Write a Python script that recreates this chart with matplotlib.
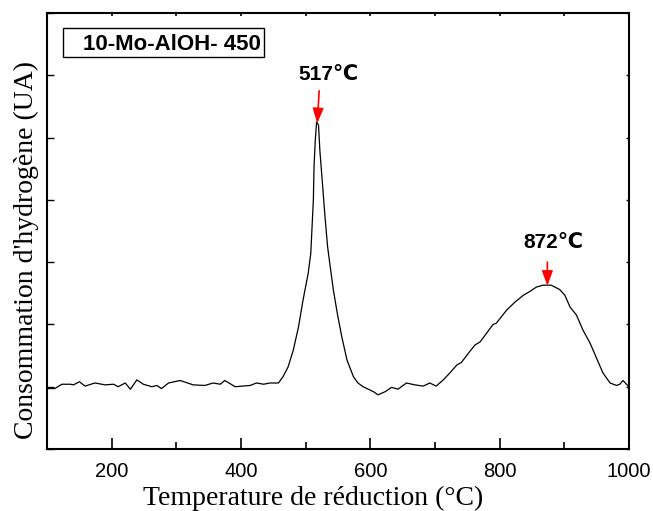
import matplotlib.pyplot as plt
from matplotlib.patches import Rectangle
from matplotlib.ticker import MultipleLocator

# TPR trace
temp = [100, 112, 123, 136, 141, 150, 159, 174, 190, 203,
        210, 221, 229, 239, 249, 262, 270, 277, 288, 306,
        326, 344, 357, 368, 375, 391, 414, 424, 435, 445,
        458, 465, 473, 481, 489, 496, 504, 508, 510, 512,
        513, 515, 517, 520, 522, 526, 530, 534, 538, 543,
        549, 556, 564, 574, 581, 589, 597, 605, 612, 623,
        633, 643, 656, 669, 682, 692, 702, 713, 723, 734,
        741, 752, 762, 770, 780, 790, 795, 811, 824, 837,
        847, 857, 867, 880, 893, 901, 909, 919, 929, 940,
        950, 960, 971, 981, 986, 991, 999]
signal = [0.97, 0.97, 1.04, 1.04, 1.03, 1.08, 1.01, 1.06, 1.03, 1.04,
          1.00, 1.06, 0.96, 1.11, 1.04, 1.00, 1.02, 0.97, 1.06, 1.10,
          1.03, 1.02, 1.06, 1.04, 1.10, 1.00, 1.02, 1.06, 1.04, 1.06,
          1.06, 1.16, 1.32, 1.59, 1.96, 2.39, 2.82, 3.14, 3.57, 4.00,
          4.53, 4.96, 5.25, 5.20, 4.80, 4.27, 3.73, 3.25, 2.93, 2.55,
          2.18, 1.80, 1.43, 1.16, 1.06, 1.00, 0.96, 0.92, 0.87, 0.92,
          0.99, 0.96, 1.06, 1.03, 1.01, 1.06, 1.01, 1.11, 1.22, 1.35,
          1.39, 1.54, 1.67, 1.72, 1.86, 2.00, 2.02, 2.23, 2.36, 2.47,
          2.53, 2.60, 2.63, 2.63, 2.56, 2.47, 2.28, 2.15, 1.91, 1.70,
          1.46, 1.22, 1.06, 1.02, 1.04, 1.10, 1.01]

peaks = [517, 874]
peak_labels = ['517℃', '872℃']

sans = ['Liberation Sans', 'DejaVu Sans']
serif = ['Liberation Serif', 'DejaVu Serif']

fig = plt.figure(figsize=(6.53, 5.11), dpi=100)
ax = fig.add_axes([0.072, 0.1213, 0.891, 0.8533])

ax.plot(temp, signal, color='black', lw=0.9)

ax.set_xlim(100, 1000)
ax.set_ylim(0, 7)
ax.xaxis.set_major_locator(MultipleLocator(200))
ax.xaxis.set_minor_locator(MultipleLocator(100))
ax.yaxis.set_major_locator(MultipleLocator(1))
ax.set_yticklabels([])
ax.tick_params(axis='x', which='major', direction='in', length=8, width=1.2,
               labelsize=14.5, pad=9)
ax.tick_params(axis='x', which='minor', direction='in', length=5, width=1.2)
ax.tick_params(axis='y', direction='in', length=5, width=1.0)
ax.tick_params(top=True, right=True, which='both')
ax.tick_params(axis='x', which='both', labeltop=False)
for t in ax.get_xticklabels():
    t.set_family(sans)
for s in ax.spines.values():
    s.set_linewidth(1.5)

# top / right ticks are tiny in the original
for tl in ax.xaxis.get_ticklines(minor=False)[1::2] + ax.xaxis.get_ticklines(minor=True)[1::2]:
    tl.set_markersize(2)
for tl in ax.yaxis.get_ticklines()[1::2]:
    tl.set_markersize(2)

# sample box
ax.add_patch(Rectangle((0.0275, 0.899), 0.3455, 0.0666, transform=ax.transAxes,
                       fill=False, edgecolor='black', lw=1.0))
ax.text(0.062, 0.927, '10-Mo-AlOH- 450', transform=ax.transAxes, family=sans,
        fontsize=16, fontweight='bold', va='center', ha='left')

# peak markers
arrow_style = dict(arrowstyle='-|>,head_length=0.6,head_width=0.22', color='red',
                   lw=1.2, mutation_scale=15, shrinkA=0, shrinkB=0)
ax.annotate('', xy=(peaks[0] + 1, 5.23), xytext=(peaks[0] + 4, 5.75), arrowprops=arrow_style)
ax.text(536, 6.02, peak_labels[0], family=sans, fontsize=15, fontweight='bold',
        ha='center', va='center')
ax.annotate('', xy=(peaks[1], 2.62), xytext=(peaks[1], 3.0), arrowprops=arrow_style)
ax.text(884, 3.31, peak_labels[1], family=sans, fontsize=15, fontweight='bold',
        ha='center', va='center')

fig.text(0.480, 0.012, 'Temperature de réduction (°C)', family=serif, fontsize=20,
         ha='center', va='baseline')
fig.text(0.040, 0.511, "Consommation d'hydrogène (UA)", family=serif, fontsize=20,
         rotation=90, ha='center', va='center')

fig.savefig('out.png', dpi=100)
